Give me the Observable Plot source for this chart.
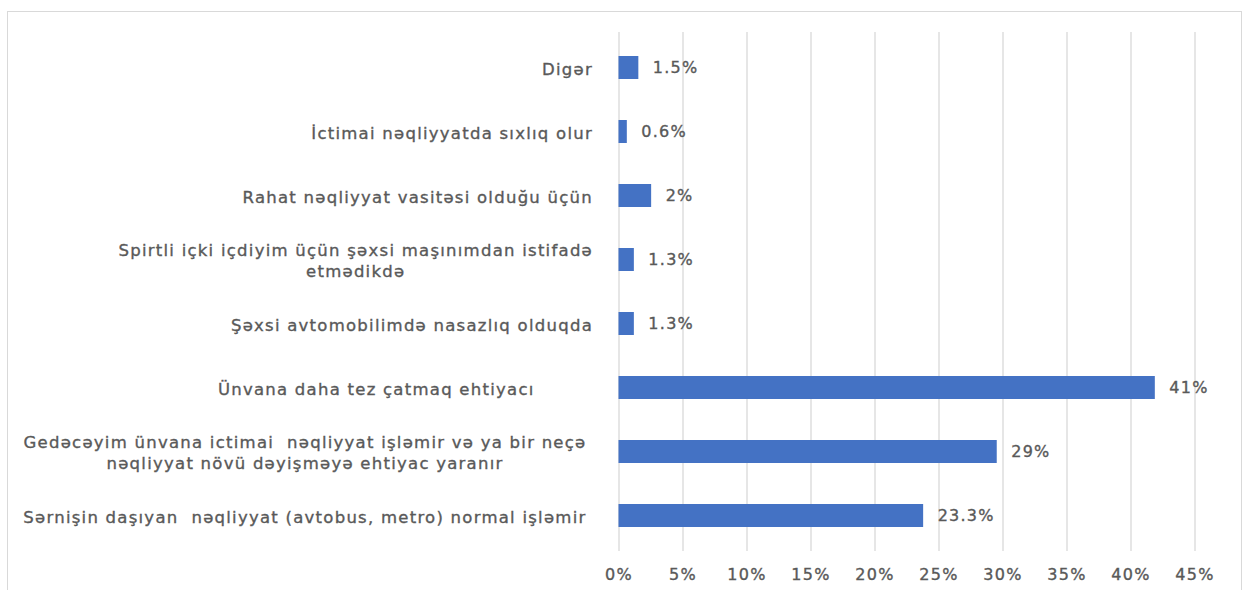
<!DOCTYPE html>
<html>
<head>
<meta charset="utf-8">
<script src="https://cdn.jsdelivr.net/npm/d3@7"></script>
<script src="https://cdn.jsdelivr.net/npm/@observablehq/plot@0.6"></script>
<style>
  html, body { margin: 0; padding: 0; background: #fff; width: 1245px; height: 590px; overflow: hidden; }
  #frame { position: absolute; left: 7px; top: 11px; width: 1235px; height: 640px; border: 1px solid #d9d9d9; box-sizing: border-box; }
  #chart { position: absolute; left: 0; top: 0; }
  #chart svg text { white-space: pre; letter-spacing: 1.25px; stroke: #595959; stroke-width: 0.35px; }
</style>
</head>
<body>
<div id="frame"></div>
<div id="chart"></div>
<script>
// Categories, top to bottom as shown
const categories = [
  "Digər",
  "İctimai nəqliyyatda sıxlıq olur",
  "Rahat nəqliyyat vasitəsi olduğu üçün",
  "Spirtli içki içdiyim üçün şəxsi maşınımdan istifadə\netmədikdə",
  "Şəxsi avtomobilimdə nasazlıq olduqda",
  "Ünvana daha tez çatmaq ehtiyacı         ",
  "Gedəcəyim ünvana ictimai  nəqliyyat işləmir və ya bir neçə \nnəqliyyat növü dəyişməyə ehtiyac yaranır ",
  "Sərnişin daşıyan  nəqliyyat (avtobus, metro) normal işləmir "
];
// Bar lengths (percent) as drawn
const values = [1.55, 0.65, 2.55, 1.2, 1.2, 41.9, 29.55, 23.8];
// Data labels as printed
const valueLabels = ["1.5%", "0.6%", "2%", "1.3%", "1.3%", "41%", "29%", "23.3%"];
// X axis ticks
const xTicks = [0, 5, 10, 15, 20, 25, 30, 35, 40, 45];

const data = categories.map((c, i) => ({category: c, value: values[i], label: valueLabels[i]}));

const textColor = "#595959";

const chart = Plot.plot({
  width: 1245,
  height: 590,
  marginLeft: 618.5,
  marginRight: 50.5,
  marginTop: 32,
  marginBottom: 39,
  style: {fontFamily: "'DejaVu Sans', sans-serif", fontSize: "16px", color: textColor, background: "transparent"},
  x: {domain: [0, 45], ticks: xTicks},
  y: {domain: categories, paddingInner: 0.645, paddingOuter: 0.3225},
  marks: [
    Plot.ruleX(xTicks, {stroke: "#d9d9d9", strokeWidth: 1.3}),
    Plot.barX(data, {x: "value", y: "category", fill: "#4472C4"}),
    Plot.text(data, {x: "value", y: "category", text: "label", textAnchor: "start", dx: 14, fill: textColor, fontSize: 16}),
    Plot.axisX({ticks: xTicks, tickFormat: d => d + "%", tickSize: 0, tickPadding: 17.5, fontSize: 16, fill: textColor, label: null}),
    Plot.axisY({tickSize: 0, tickPadding: 26, fontSize: 16.5, fill: textColor, lineHeight: 1.25, label: null})
  ]
});

document.getElementById("chart").appendChild(chart);

// Center the lines of wrapped category labels within their (right-aligned) block
chart.querySelectorAll('g[aria-label="y-axis tick label"] text').forEach(t => {
  const spans = t.querySelectorAll("tspan");
  if (spans.length < 2) return;
  const before = t.getBBox();
  const right = before.x + before.width;
  t.setAttribute("text-anchor", "middle");
  const after = t.getBBox();
  const shift = right - (after.x + after.width);
  t.setAttribute("transform", (t.getAttribute("transform") || "") + ` translate(${shift},0)`);
});
</script>
</body>
</html>
